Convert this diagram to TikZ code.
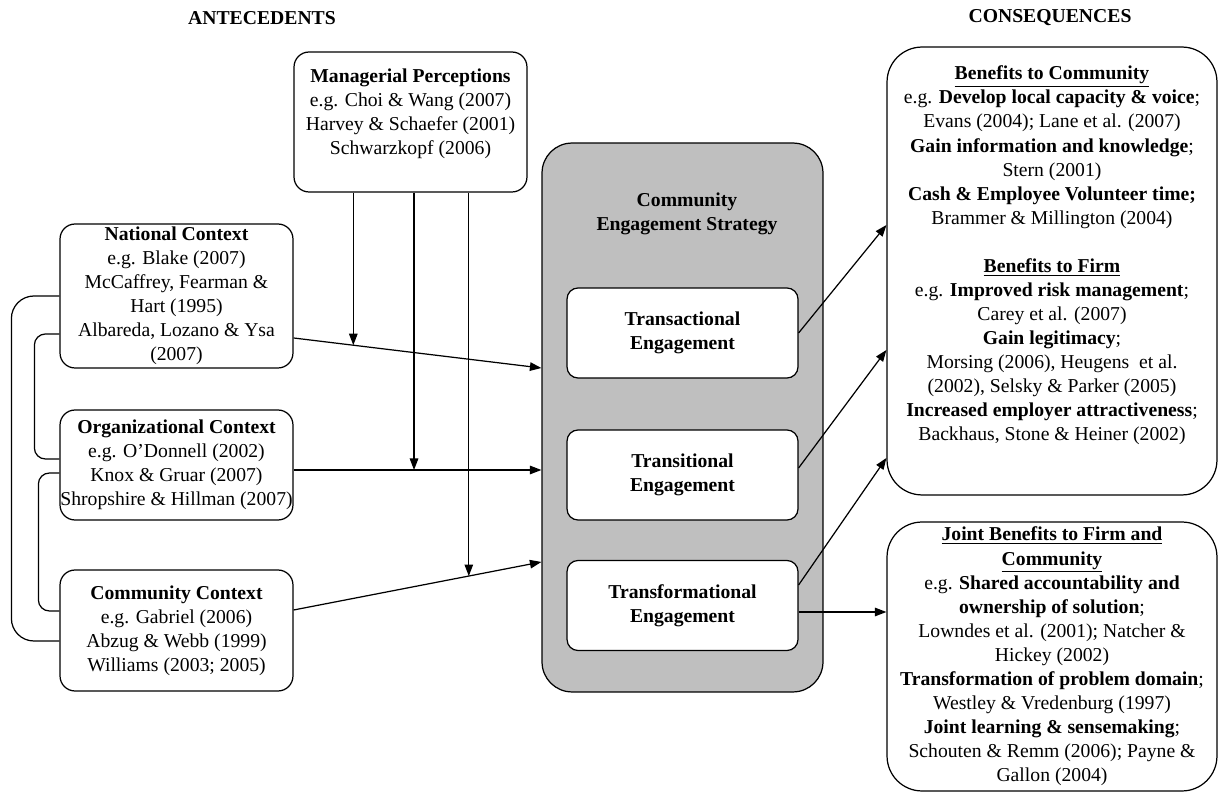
\documentclass[tikz,border=0pt]{standalone}
\usepackage{fontspec}
\setmainfont{Liberation Serif}
\usetikzlibrary{arrows.meta}
\definecolor{stratgray}{RGB}{191,191,191}
\newcommand{\boxfont}{\fontsize{11.2}{13.7}\selectfont}
\tikzset{
  hdr/.style={font=\boxfont\bfseries},
  ctxbox/.style={draw,rounded corners=0.3cm,minimum width=4.66cm,inner sep=0pt,align=center},
  stratbox/.style={draw,fill=stratgray,rounded corners=0.6cm,minimum width=5.62cm,minimum height=10.98cm},
  engbox/.style={draw,fill=white,rounded corners=0.22cm,minimum width=4.62cm,minimum height=1.8cm,align=center,font=\boxfont\bfseries},
  outbox/.style={draw,rounded corners=0.7cm,minimum width=6.6cm,inner sep=0pt,align=center},
  arr/.style={-{Triangle[length=2.3mm,width=1.7mm]}}
}

\begin{document}
\begin{tikzpicture}[x=0.02cm,y=-0.02cm,line width=0.7pt,font=\boxfont]
\useasboundingbox (0,0) rectangle (1218,793);

% Headings
\node[hdr] (ante) at (262,18) {ANTECEDENTS};
\node[hdr] (cons) at (1050,18) {CONSEQUENCES};

% Antecedents
\node[ctxbox,minimum height=2.8cm,text depth=12pt] (mp) at (410.5,122) {\textbf{Managerial Perceptions}\\ e.g. Choi \& Wang (2007)\\ Harvey \& Schaefer (2001)\\ Schwarzkopf (2006)};
\node[ctxbox,minimum height=2.88cm] (nat) at (176.5,296) {\textbf{National Context}\\ e.g. Blake (2007)\\ McCaffrey, Fearman \&\\ Hart (1995)\\ Albareda, Lozano \& Ysa\\ (2007)};
\node[ctxbox,minimum height=2.2cm] (org) at (176.5,465) {\textbf{Organizational Context}\\ e.g. O’Donnell (2002)\\ Knox \& Gruar (2007)\\ Shropshire \& Hillman (2007)};
\node[ctxbox,minimum height=2.42cm] (com) at (176.5,630.5) {\textbf{Community Context}\\ e.g. Gabriel (2006)\\ Abzug \& Webb (1999)\\ Williams (2003; 2005)};

% Strategy
\node[stratbox] (ges) at (682.5,417.5) {};
\node[hdr,align=center] (gestitle) at (687,214) {Community\\ Engagement Strategy};
\node[engbox] (ta) at (682.5,333) {Transactional\\ Engagement};
\node[engbox] (ti) at (682.5,475) {Transitional\\ Engagement};
\node[engbox] (tf) at (682.5,605.5) {Transformational\\ Engagement};

% Consequences
\node[outbox,minimum height=8.96cm,text depth=20pt] (bc) at (1052,271) {\underline{\textbf{Benefits to Community}}\\ e.g. \textbf{Develop local capacity \& voice};\\ Evans (2004); Lane et al. (2007)\\ \textbf{Gain information and knowledge};\\ Stern (2001)\\ \textbf{Cash \& Employee Volunteer time;}\\ Brammer \& Millington (2004)\\[13.7pt] \underline{\textbf{Benefits to Firm}}\\ e.g. \textbf{Improved risk management};\\ Carey et al. (2007)\\ \textbf{Gain legitimacy};\\ Morsing (2006), Heugens~ et al.\\ (2002), Selsky \& Parker (2005)\\ \textbf{Increased employer attractiveness};\\ Backhaus, Stone \& Heiner (2002)};
\node[outbox,minimum height=5.38cm] (jb) at (1052,656.5) {\underline{\textbf{Joint Benefits to Firm and}}\\ \underline{\textbf{Community}}\\ e.g. \textbf{Shared accountability and}\\ \textbf{ownership of solution};\\ Lowndes et al. (2001); Natcher \&\\ Hickey (2002)\\ \textbf{Transformation of problem domain};\\ Westley \& Vredenburg (1997)\\ \textbf{Joint learning \& sensemaking};\\ Schouten \& Remm (2006); Payne \&\\ Gallon (2004)};

% Connections
\draw[arr] ([yshift=-0.84cm]nat.east) -- coordinate[pos=0.241] (m1) ([yshift=0.99cm]ges.west);
\draw[arr] ([yshift=-0.1cm]org.east) -- coordinate[pos=0.486] (m2) ([yshift=-0.1cm]org.east -| ges.west);
\draw[arr] ([yshift=0.41cm]com.east) -- coordinate[pos=0.707] (m3) ([yshift=-2.89cm]ges.west);
\foreach \m in {m1,m2,m3}
  \draw[arr] (mp.south -| \m) -- (\m);

\draw[arr] (ta.east) -- ([yshift=0.92cm]bc.west);
\draw[arr] ([yshift=0.14cm]ti.east) -- ([yshift=-1.58cm]bc.west);
\draw[arr] ([yshift=0.41cm]tf.east) -- ([yshift=-3.74cm]bc.west);
\draw[arr] ([yshift=-0.13cm]tf.east) -- ([yshift=-0.13cm]tf.east -| jb.west);

% Loops between contexts
\draw[rounded corners=0.45cm] (nat.west) -- ++(-48,0) |- ([yshift=-0.21cm]com.west);
\draw[rounded corners=0.22cm] ([yshift=-0.76cm]nat.west) -- ++(-25,0) |- ([yshift=0.12cm]org.west);
\draw[rounded corners=0.22cm] ([yshift=-0.16cm]org.west) -- ++(-21,0) |- ([yshift=0.39cm]com.west);
\end{tikzpicture}
\end{document}
